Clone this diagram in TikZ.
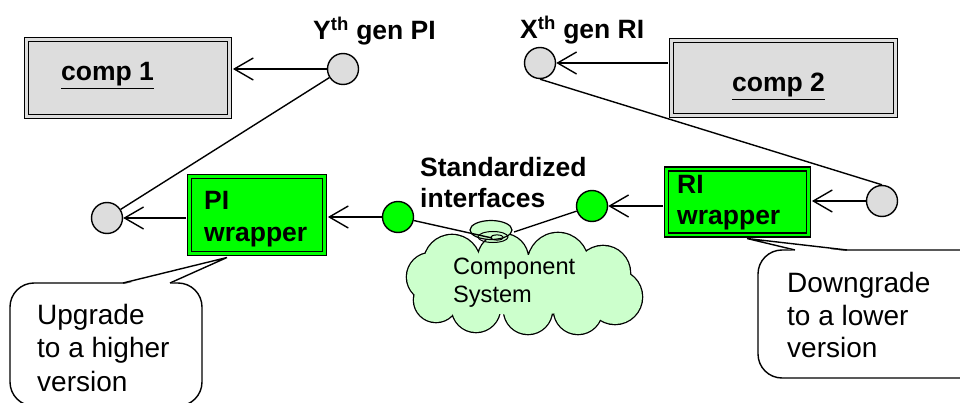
\documentclass[tikz,border=0pt]{standalone}
\usepackage{fontspec}
\setmainfont{Liberation Sans}
\usetikzlibrary{shapes.geometric,arrows.meta}
\definecolor{boxgray}{HTML}{DDDDDD}
\definecolor{wrapgreen}{HTML}{00FF00}
\definecolor{cloudgreen}{HTML}{CCFFCC}
\tikzset{
  comp/.style={draw, line width=1.6pt, double=#1, double distance=2.6pt, fill=#1,
     rectangle, inner sep=0pt, outer sep=3.4pt},
  port/.style={draw, circle, line width=1.4pt, fill=#1, minimum size=31pt, inner sep=0pt},
  conn/.style={line width=1.4pt},
  arr/.style={conn, -{Straight Barb[length=19pt,width=22pt,line width=1.4pt]}},
  lbl/.style={font=\fontsize{26.5}{31}\selectfont\bfseries, inner sep=0pt, anchor=base west},
  ctext/.style={font=\fontsize{28}{33.3}\selectfont, inner sep=0pt, anchor=base west},
  callout/.style={draw, line width=1.4pt, fill=white, rounded corners=24pt},
}
\begin{document}
\begin{tikzpicture}[x=1pt,y=-1pt]
\clip (0,0) rectangle (960,403);
\fill[white] (0,0) rectangle (960,403);

% boxes
\node[comp=boxgray, minimum width=203pt, minimum height=77pt] (comp1) at (128,78) {};
\node[comp=boxgray, minimum width=224pt, minimum height=75pt] (comp2) at (783.5,78) {};
\node[comp=wrapgreen, minimum width=135pt, minimum height=77pt] (PIw) at (257,215) {};
\node[comp=wrapgreen, minimum width=142pt, minimum height=66pt] (RIw) at (737.5,202) {};

\node[lbl] (t1) at (61,81) {\underline{comp 1}};
\node[lbl] (t2) at (732,92) {\underline{comp 2}};
\node[lbl] (tpi1) at (204,210) {PI};
\node[lbl] (tpi2) at (204,242) {wrapper};
\node[lbl] (tri1) at (677,194) {RI};
\node[lbl] (tri2) at (677,225) {wrapper};

% ports
\node[port=boxgray] (cY) at (343,69) {};
\node[port=boxgray] (cX) at (540,63) {};
\node[port=boxgray] (cL) at (107,218) {};
\node[port=boxgray] (cR) at (882,201) {};
\node[port=wrapgreen] (gL) at (398,217) {};
\node[port=wrapgreen] (gR) at (592,206) {};

\node[lbl] (ly) at (313,40) {Y\textsuperscript{th} gen PI};
\node[lbl] (lx) at (520,39) {X\textsuperscript{th} gen RI};
\node[lbl] (ls1) at (420,177) {Standardized};
\node[lbl] (ls2) at (420,208) {interfaces};

% cloud (union of puffs)
\def\puffs{(452,263) circle (28) (503,259) circle (25) (558,263) circle (30)
  (603,273) circle (27) (615,297) circle (27) (578,310) circle (24)
  (528,310) circle (24) (476,308) circle (24) (436,300) circle (22) (431,277) circle (24)}
\draw[line width=2.6pt, fill=cloudgreen] \puffs;
\fill[cloudgreen] \puffs;
\fill[cloudgreen] (524,285) ellipse (95 and 30);
\node[ellipse, draw, line width=1.2pt, fill=cloudgreen, minimum width=42pt, minimum height=19pt,
      inner sep=0pt] (bub) at (491,230) {};
\draw[line width=1pt] (493,237) ellipse (15 and 5.5);
\draw[line width=1pt] (497,237.5) ellipse (6.5 and 2.6);
\coordinate (spA) at (492,238);
\coordinate (spB) at (514,232);
\node[inner sep=0pt, anchor=base west, font=\fontsize{23.6}{28}\selectfont] (cs1) at (453,274) {Component};
\node[inner sep=0pt, anchor=base west, font=\fontsize{23.6}{28}\selectfont] (cs2) at (453,302) {System};

% connectors
\draw[conn] (gL) -- (spA);
\draw[conn] (gR) -- (spB);
\draw[conn] (cY) -- (cL);
\draw[conn] (cX.south) -- (cR.north);
\draw[arr] (cY.west) -- (cY.west -| comp1.east);
\draw[arr] (comp2.west |- cX.east) -- (cX.east);
\draw[arr] (PIw.west |- cL.east) -- (cL.east);
\draw[arr] (gL.west) -- (gL.west -| PIw.east);
\draw[arr] (RIw.west |- gR.east) -- (gR.east);
\draw[arr] (cR.west) -- (cR.west -| RIw.east);

% callouts
\draw[callout] (10,283) rectangle (202,406);
\fill[white] (124,284.2) -- (227,257.5) -- (169,284.2) -- cycle;
\draw[conn, line join=miter] (123,283) -- (227,257.5) -- (170,283);
\node[ctext] (u1) at (37,324) {Upgrade};
\node[ctext] (u2) at (37,357) {to a higher};
\node[ctext] (u3) at (37,391) {version};

\draw[callout] (758,250) rectangle (985,378);
\fill[white] (796,251.2) -- (747,238.5) -- (846,251.2) -- cycle;
\draw[conn, line join=miter] (795,250) -- (747,238.5) -- (847,250);
\node[ctext] (d1) at (787,292) {Downgrade};
\node[ctext] (d2) at (787,325) {to a lower};
\node[ctext] (d3) at (787,357) {version};
\end{tikzpicture}
\end{document}
